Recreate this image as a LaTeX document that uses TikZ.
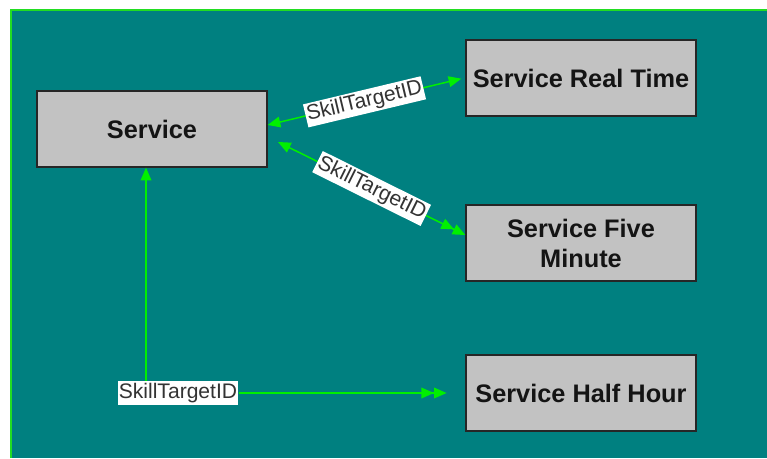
\documentclass[tikz,border=0pt]{standalone}
\usepackage{fontspec}
\setmainfont{Liberation Sans}
\usepackage{tikz}
\usetikzlibrary{positioning,arrows.meta}
\definecolor{tealbg}{HTML}{008080}
\definecolor{linkgreen}{HTML}{00F000}
\definecolor{edgegreen}{HTML}{22DD22}
\definecolor{boxgray}{HTML}{C2C2C2}
\tikzstyle{tablebox} = [
    rectangle,                 % Shape
    draw=black!85,             % Border color
    line width=1pt,
    minimum width=172.5pt,     % Width
    minimum height=57pt,       % Height
    align=center,
    text=black!92,
    fill=boxgray,
    font=\bfseries\fontsize{19}{22.5}\selectfont
]
\tikzstyle{keytag} = [fill=white, inner xsep=1pt, inner ysep=1.5pt, text=black!80,
                      font=\fontsize{15.8}{18}\selectfont]
\tikzstyle{link} = [linkgreen, line width=1.1pt]
\tikzstyle{onehead} = [{Triangle[length=9.5pt,width=8pt]}-{Triangle[length=9.5pt,width=8pt]}]
\tikzstyle{twohead} = [{Triangle[length=9.5pt,width=8pt]}-{Triangle[length=9.5pt,width=8pt]Triangle[length=9.5pt,width=8pt]}]
\tikzstyle{tohead} = [-{Triangle[length=9.5pt,width=8pt]}]

\begin{document}
\begin{tikzpicture}[x=0.75pt, y=-0.75pt]

		% Frame
		\useasboundingbox (0,0) rectangle (767,458);
		\fill[tealbg] (10,9) rectangle (767,458);
		\draw[edgegreen, line width=1.5pt] (10.5,458) -- (10.5,9.5) -- (767,9.5);

		% Tables
		\node[tablebox] (service) at (152,129) {Service};
		\node[tablebox] (realtime) at (581,78) {Service Real Time};
		\node[tablebox] (fivemin) at (581,243) {Service Five\\Minute};
		\node[tablebox] (halfhour) at (581,393) {Service Half Hour};

		% Real time
		\coordinate (rt_a) at ([yshift=3pt]service.east);
		\coordinate (rt_b) at ([xshift=-3pt, yshift=-0.5pt]realtime.west);
		\draw[link, onehead] (rt_a) -- (rt_b) node[keytag, midway, sloped] (rt_key) {SkillTargetID};

		% Five minute
		\coordinate (fm_a) at (278,142);
		\coordinate (fm_b) at ([yshift=6pt]fivemin.west);
		\draw[link, twohead] (fm_a) -- (fm_b) node[keytag, midway, sloped] (fm_key) {SkillTargetID};

		% Half hour
		\node[keytag] (hh_key) at (178,393) {SkillTargetID};
		\coordinate (hh_up) at (146,0);
		\draw[link, tohead] (hh_up |- hh_key.north) -- (hh_up |- service.south);
		\draw[link, -{Triangle[length=9.5pt,width=8pt]Triangle[length=9.5pt,width=8pt]}, shorten >=14pt] (hh_key.east) -- (halfhour.west);
	\end{tikzpicture}
\end{document}
